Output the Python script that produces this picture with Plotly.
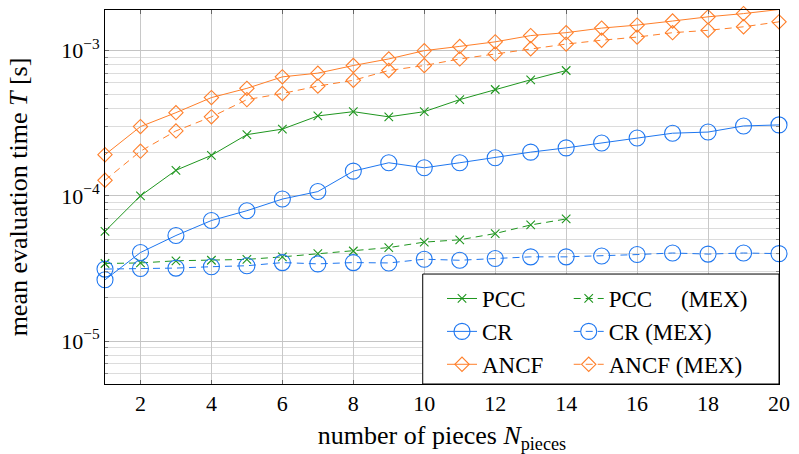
import plotly.graph_objects as go

x_pieces = list(range(1, 21))
x_pcc = list(range(1, 15))

pcc = [5.7e-5, 1.0e-4, 1.5e-4, 1.9e-4, 2.64e-4, 2.88e-4, 3.55e-4, 3.8e-4, 3.5e-4, 3.8e-4, 4.6e-4, 5.4e-4, 6.3e-4, 7.3e-4]
pcc_mex = [3.42e-5, 3.45e-5, 3.57e-5, 3.6e-5, 3.65e-5, 3.8e-5, 4.0e-5, 4.17e-5, 4.4e-5, 4.8e-5, 4.98e-5, 5.5e-5, 6.3e-5, 6.93e-5]
cr = [2.64e-5, 4.07e-5, 5.33e-5, 6.76e-5, 7.9e-5, 9.5e-5, 1.07e-4, 1.48e-4, 1.69e-4, 1.56e-4,
      1.69e-4, 1.83e-4, 2.0e-4, 2.14e-4, 2.31e-4, 2.5e-4, 2.7e-4, 2.75e-4, 3.03e-4, 3.08e-4]
cr_mex = [3.13e-5, 3.16e-5, 3.18e-5, 3.25e-5, 3.3e-5, 3.47e-5, 3.4e-5, 3.47e-5, 3.45e-5, 3.66e-5,
          3.6e-5, 3.7e-5, 3.8e-5, 3.8e-5, 3.85e-5, 3.94e-5, 4.04e-5, 3.97e-5, 4.04e-5, 4.0e-5]
ancf = [1.92e-4, 3.0e-4, 3.74e-4, 4.75e-4, 5.5e-4, 6.6e-4, 7.0e-4, 7.9e-4, 8.77e-4, 1.0e-3,
        1.07e-3, 1.15e-3, 1.27e-3, 1.33e-3, 1.43e-3, 1.5e-3, 1.6e-3, 1.71e-3, 1.8e-3, 1.92e-3]
ancf_mex = [1.28e-4, 2.03e-4, 2.8e-4, 3.5e-4, 4.6e-4, 5.07e-4, 5.7e-4, 6.25e-4, 7.3e-4, 7.9e-4,
            8.77e-4, 9.5e-4, 1.03e-3, 1.11e-3, 1.18e-3, 1.24e-3, 1.33e-3, 1.38e-3, 1.46e-3, 1.58e-3]

x_ticks = list(range(2, 21, 2))
y_tickvals = [1e-5, 1e-4, 1e-3]
y_ticktext = ["10<sup>\u22125</sup>", "10<sup>\u22124</sup>", "10<sup>\u22123</sup>"]

GREEN = "#1f961f"
BLUE = "#1f77f0"
ORANGE = "#ff7f2a"
NB = "\u00a0"
FONT = "Liberation Serif"
DASH = "7px,5px"

series = [
    ("PCC", x_pcc, pcc, GREEN, "solid", "x-thin-open", 8.5, "legend"),
    ("PCC" + NB * 5 + "(MEX)", x_pcc, pcc_mex, GREEN, DASH, "x-thin-open", 8.5, "legend2"),
    ("CR", x_pieces, cr, BLUE, "solid", "circle-open", 16, "legend"),
    ("CR (MEX)", x_pieces, cr_mex, BLUE, DASH, "circle-open", 16, "legend2"),
    ("ANCF", x_pieces, ancf, ORANGE, "solid", "diamond-open", 11, "legend"),
    ("ANCF (MEX)", x_pieces, ancf_mex, ORANGE, DASH, "diamond-open", 11, "legend2"),
]

fig = go.Figure()
for name, xs, ys, col, dash, sym, sz, lg in series:
    fig.add_trace(go.Scatter(
        x=xs, y=ys, name=name, mode="lines+markers",
        line=dict(color=col, width=1, dash=dash),
        marker=dict(symbol=sym, size=sz, color=col, line=dict(color=col, width=1.1)),
        cliponaxis=False, legend=lg,
    ))

# legend box frame (both legend columns share one border)
box_top = 0.294
fig.add_shape(type="rect", xref="paper", yref="paper", x0=0.4714, x1=1.0, y0=0.0, y1=box_top,
              fillcolor="white", line=dict(color="black", width=1), layer="above")

leg_common = dict(orientation="v", yanchor="top", y=box_top - 0.008, xanchor="left",
                  bgcolor="rgba(0,0,0,0)", borderwidth=0,
                  font=dict(family=FONT, size=23), tracegroupgap=0)

fig.update_layout(
    width=799, height=454,
    margin=dict(l=105, r=13, t=9, b=67),
    plot_bgcolor="white", paper_bgcolor="white",
    font=dict(family=FONT, size=22, color="black"),
    showlegend=True,
    legend=dict(x=0.500, **leg_common),
    legend2=dict(x=0.688, **leg_common),
)
fig.update_xaxes(
    range=[1, 20], tickvals=x_ticks,
    showgrid=True, gridcolor="#c8c8c8", gridwidth=1,
    showline=True, linecolor="black", linewidth=1, mirror="allticks",
    ticks="inside", ticklen=4, tickcolor="#666666",
    zeroline=False,
    title=dict(text="number of pieces <i>N</i><sub>pieces</sub>", standoff=10),
)
fig.update_yaxes(
    type="log", range=[-5.296, -2.72],
    tickvals=y_tickvals, ticktext=y_ticktext,
    showgrid=True, gridcolor="#c4c4c4", gridwidth=1,
    showline=True, linecolor="black", linewidth=1, mirror="allticks",
    ticks="inside", ticklen=4, tickcolor="#666666",
    minor=dict(dtick="D1", showgrid=True, gridcolor="#dcdcdc", ticks="inside", ticklen=3, tickcolor="#888888"),
    title=dict(text="mean evaluation time <i>T</i> [s]", standoff=26),
)
fig.write_html("out.html")
